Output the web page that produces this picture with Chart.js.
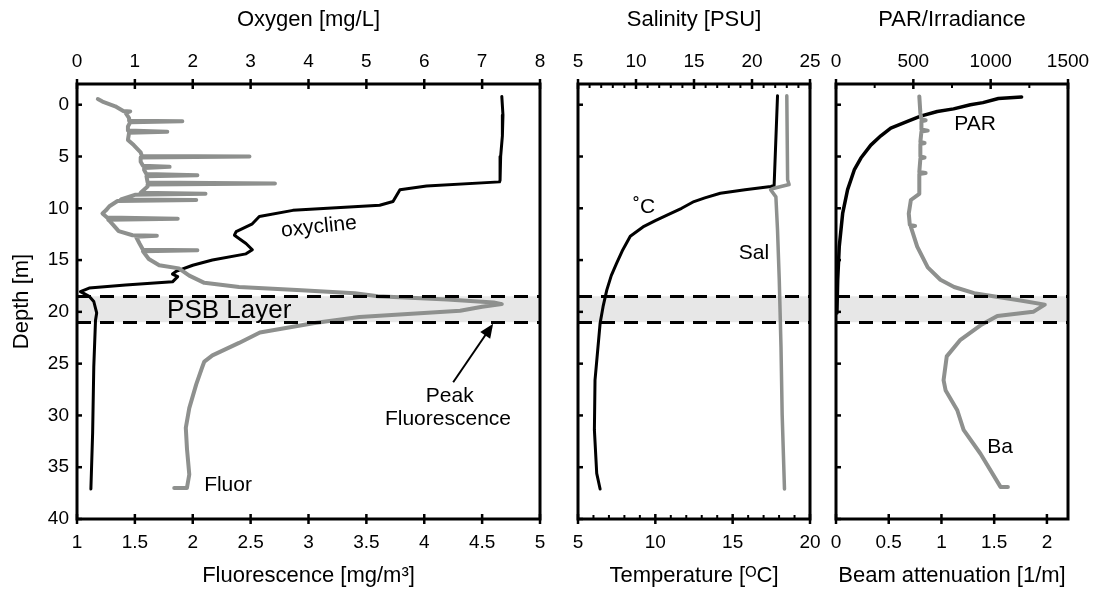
<!DOCTYPE html>
<html><head><meta charset="utf-8">
<script src="https://cdn.jsdelivr.net/npm/chart.js@4/dist/chart.umd.min.js"></script>
<style>
html,body{margin:0;padding:0;background:#fff;}
#wrap{position:relative;width:1102px;height:592px;overflow:hidden;}
canvas{position:absolute;left:0;top:0;}
</style></head><body>
<div id="wrap">
<canvas id="c1" width="1102" height="592"></canvas>
<canvas id="c2" width="1102" height="592"></canvas>
<canvas id="c3" width="1102" height="592"></canvas>
</div>
<script>
// ---------- DATA ----------
// Panel 1: Oxygen [mg/L] vs depth
const oxyDepth = [-0.8, 1, 3, 5, 7.3, 7.45, 7.85, 8.2, 9.35, 9.7, 10.2, 10.8, 11.5, 12.25, 12.6, 13.4, 14.0, 14.4, 15.0, 15.5, 16.1, 16.35, 16.6, 17.1, 17.4, 17.7, 18.05, 18.5, 19.0, 20.1, 20.8, 25.3, 31.7, 37.1];
const oxyValue = [7.34, 7.36, 7.35, 7.32, 7.31, 7.3, 6.04, 5.58, 5.46, 5.23, 3.73, 3.15, 3.03, 2.75, 2.72, 2.92, 3.03, 2.92, 2.34, 2.0, 1.71, 1.65, 1.74, 1.65, 0.84, 0.21, 0.06, 0.21, 0.29, 0.34, 0.32, 0.29, 0.27, 0.24];
// Panel 1: Fluorescence [mg/m3] vs depth
const fluDepth = [-0.55, -0.3, 0.15, 0.6, 0.65, 0.8, 1.3, 1.55, 1.6, 1.7, 2.1, 2.5, 2.6, 2.7, 3.4, 3.9, 4.6, 4.95, 5.0, 5.1, 5.5, 5.9, 6.0, 6.1, 6.3, 6.7, 6.8, 6.9, 7.5, 7.6, 7.7, 7.9, 8.5, 8.6, 8.7, 9.0, 9.15, 9.2, 9.3, 9.8, 10.2, 10.5, 10.9, 11.0, 11.1, 11.2, 11.7, 12.2, 12.6, 12.65, 12.75, 13.4, 14.0, 14.05, 14.15, 14.9, 15.5, 15.8, 16.5, 17.2, 17.6, 17.9, 18.2, 18.5, 18.8, 19.1, 19.25, 19.5, 19.9, 20.5, 21.0, 21.1, 22.0, 23.0, 24.2, 24.8, 25.4, 27.0, 29.3, 31.2, 33.2, 35.7, 37.0, 37.0];
const fluValue = [1.18, 1.22, 1.33, 1.40, 1.46, 1.42, 1.45, 1.45, 1.91, 1.46, 1.44, 1.44, 1.78, 1.45, 1.44, 1.49, 1.55, 1.56, 2.49, 1.55, 1.55, 1.57, 1.80, 1.58, 1.58, 1.60, 2.04, 1.60, 1.61, 2.71, 1.61, 1.61, 1.55, 2.11, 1.50, 1.42, 1.38, 2.03, 1.35, 1.28, 1.25, 1.22, 1.26, 1.87, 1.27, 1.28, 1.32, 1.36, 1.48, 1.69, 1.51, 1.54, 1.57, 2.04, 1.57, 1.62, 1.71, 1.88, 1.97, 2.10, 2.40, 2.90, 3.40, 3.60, 4.20, 4.60, 4.67, 4.50, 4.31, 3.44, 3.10, 3.04, 2.58, 2.40, 2.17, 2.10, 2.08, 2.03, 1.97, 1.94, 1.95, 1.97, 1.95, 1.84];
// Panel 2: Temperature [oC] vs depth
const tempDepth = [-0.87, 7.8, 7.9, 8.2, 8.55, 9.0, 9.35, 10.0, 10.5, 11.2, 11.8, 12.7, 14.0, 15.3, 16.5, 17.9, 19.5, 21.1, 26.6, 31.4, 35.6, 37.1];
const tempValue = [17.9, 17.68, 17.47, 15.8, 14.2, 13.2, 12.5, 11.7, 11.0, 10.0, 9.2, 8.38, 7.9, 7.5, 7.15, 6.86, 6.62, 6.43, 6.1, 6.06, 6.21, 6.43];
// Panel 2: Salinity [PSU] vs depth
const salDepth = [-0.87, 7.25, 7.7, 8.06, 8.2, 8.9, 12.1, 16.9, 23.4, 29.9, 37.1];
const salValue = [23.0, 23.07, 23.2, 21.9, 21.6, 22.06, 22.2, 22.35, 22.5, 22.6, 22.8];
// Panel 3: PAR vs depth
const parDepth = [-0.75, -0.6, -0.2, 0.0, 0.4, 0.65, 1.1, 1.6, 2.25, 3.0, 3.9, 5.15, 6.3, 8.2, 10.5, 13.7, 16.9, 20.1];
const parValue = [1200, 1050, 950, 869, 760, 655, 547, 462, 354, 290, 225, 161, 118, 75, 43, 21, 11, 6];
// Panel 3: Beam attenuation [1/m] vs depth
const baDepth = [-0.8, 0.8, 1.4, 1.5, 1.6, 2.4, 2.5, 2.6, 3.6, 3.7, 3.8, 5.0, 5.1, 5.2, 6.5, 6.6, 6.7, 8.6, 9.2, 10.5, 11.6, 11.7, 11.8, 13.7, 15.7, 16.9, 17.6, 18.2, 18.9, 19.3, 20.0, 20.4, 21.3, 22.7, 24.3, 26.6, 27.6, 29.5, 31.4, 33.7, 36.9, 36.9];
const baValue = [0.79, 0.80, 0.81, 0.85, 0.81, 0.81, 0.87, 0.81, 0.80, 0.84, 0.80, 0.80, 0.84, 0.80, 0.79, 0.85, 0.79, 0.79, 0.71, 0.69, 0.70, 0.75, 0.71, 0.77, 0.87, 0.99, 1.12, 1.31, 1.75, 1.98, 1.87, 1.53, 1.37, 1.18, 1.05, 1.02, 1.04, 1.15, 1.21, 1.37, 1.56, 1.63];
// PSB layer band (depth, m)
const psbBand = [18.5, 21.0];
// Tick labels
const depthTicks = [0, 5, 10, 15, 20, 25, 30, 35, 40];
const oxyTicks = [0, 1, 2, 3, 4, 5, 6, 7, 8];
const fluTicks = [1, 1.5, 2, 2.5, 3, 3.5, 4, 4.5, 5];
const salTicks = [5, 10, 15, 20, 25];
const tempTicks = [5, 10, 15, 20];
const parTicks = [0, 500, 1000, 1500];
const baTicks = [0, 0.5, 1, 1.5, 2];

// ---------- helpers ----------
const FONT = '"Liberation Sans", Arial, Helvetica, sans-serif';
const GRAY = '#8e908e';
const pts = (ds, vs) => ds.map((d, i) => ({x: vs[i], y: d}));

const deco = {
  id: 'deco',
  beforeDatasetsDraw(chart) {
    const {ctx, chartArea: a, scales} = chart;
    const y1 = scales.y.getPixelForValue(psbBand[0]), y2 = scales.y.getPixelForValue(psbBand[1]);
    ctx.save();
    ctx.fillStyle = '#e7e7e7';
    ctx.fillRect(a.left, y1, a.right - a.left, y2 - y1);
    ctx.restore();
  },
  afterDatasetsDraw(chart, args, o) {
    const {ctx, chartArea: a, scales} = chart;
    ctx.save();
    ctx.strokeStyle = '#000'; ctx.lineWidth = 3; ctx.setLineDash([14, 9]);
    psbBand.forEach(d => {
      const py = Math.round(scales.y.getPixelForValue(d)) + 0.5;
      ctx.beginPath(); ctx.moveTo(a.left, py); ctx.lineTo(a.right, py); ctx.stroke();
    });
    ctx.setLineDash([]);
    ctx.lineWidth = 3;
    ctx.strokeRect(a.left, a.top, a.right - a.left, a.bottom - a.top);
    ctx.lineWidth = 2.5;
    ['xTop', 'xBot'].forEach(id => {
      const s = scales[id];
      const by = id === 'xTop' ? a.top : a.bottom;
      s.ticks.forEach(t => {
        const px = s.getPixelForValue(t.value);
        ctx.beginPath(); ctx.moveTo(px, by - 5); ctx.lineTo(px, by + 5); ctx.stroke();
      });
      const step = (o.minor || {})[id];
      if (step) {
        ctx.lineWidth = 2;
        for (let v = s.min; v <= s.max + 1e-9; v += step) {
          if (s.ticks.some(t => Math.abs(t.value - v) < 1e-9)) continue;
          const px = s.getPixelForValue(v);
          const dir = id === 'xTop' ? 1 : -1;
          ctx.beginPath(); ctx.moveTo(px, by); ctx.lineTo(px, by + dir * 4); ctx.stroke();
        }
        ctx.lineWidth = 2.5;
      }
    });
    scales.y.ticks.forEach(t => {
      const py = scales.y.getPixelForValue(t.value);
      ctx.beginPath(); ctx.moveTo(a.left, py); ctx.lineTo(a.left + 5, py); ctx.stroke();
    });
    ctx.fillStyle = '#000'; ctx.textAlign = 'center'; ctx.textBaseline = 'middle';
    (o.labels || []).forEach(l => {
      const s = scales[l.axis];
      const px = s.getPixelForValue(l.x), py = scales.y.getPixelForValue(l.y);
      ctx.save();
      ctx.translate(px, py);
      if (l.rot) ctx.rotate(l.rot * Math.PI / 180);
      ctx.font = (l.size || 21) + 'px ' + FONT;
      ctx.fillText(l.text, 0, 0);
      ctx.restore();
    });
    (o.arrows || []).forEach(ar => {
      const s = scales[ar.axis];
      const x1 = s.getPixelForValue(ar.from[0]), y1 = scales.y.getPixelForValue(ar.from[1]);
      const x2 = s.getPixelForValue(ar.to[0]), y2 = scales.y.getPixelForValue(ar.to[1]);
      const ang = Math.atan2(y2 - y1, x2 - x1);
      const hl = 14, hw = 6;
      ctx.strokeStyle = '#000'; ctx.lineWidth = 2;
      ctx.beginPath(); ctx.moveTo(x1, y1);
      ctx.lineTo(x2 - Math.cos(ang) * hl * 0.8, y2 - Math.sin(ang) * hl * 0.8); ctx.stroke();
      ctx.beginPath();
      ctx.moveTo(x2, y2);
      ctx.lineTo(x2 - Math.cos(ang) * hl + Math.sin(ang) * hw, y2 - Math.sin(ang) * hl - Math.cos(ang) * hw);
      ctx.lineTo(x2 - Math.cos(ang) * hl - Math.sin(ang) * hw, y2 - Math.sin(ang) * hl + Math.cos(ang) * hw);
      ctx.closePath(); ctx.fill();
    });
    ctx.restore();
  }
};

function xScale(pos, min, max, ticks, title) {
  return {
    type: 'linear', position: pos, min, max,
    afterBuildTicks: s => { s.ticks = ticks.map(v => ({value: v})); },
    afterFit: s => { s.height = pos === 'top' ? 84 : 73; },
    grid: {display: false, drawTicks: false},
    border: {display: false},
    ticks: {color: '#000', font: {family: FONT, size: 19}, padding: pos === 'top' ? 11 : 12,
             maxRotation: 0, autoSkip: false, callback: v => String(v)},
    title: {display: true, text: title, color: '#000', font: {family: FONT, size: 22},
            padding: pos === 'top' ? {top: 7} : {bottom: 3}}
  };
}

function yScale(show) {
  return {
    type: 'linear', position: 'left', reverse: true, min: -2, max: 40,
    afterBuildTicks: s => { s.ticks = depthTicks.map(v => ({value: v})); },
    afterFit: s => { s.width = show ? 77 : 0; },
    grid: {display: false, drawTicks: false},
    border: {display: false},
    ticks: {display: show, color: '#000', font: {family: FONT, size: 19}, padding: 8, callback: v => String(v)},
    title: {display: show, text: 'Depth [m]', color: '#000', font: {family: FONT, size: 22}, padding: {top: 9}}
  };
}

function line(data, axis, color, width) {
  return {data, xAxisID: axis, yAxisID: 'y', borderColor: color, borderWidth: width,
          borderJoinStyle: 'round', borderCapStyle: 'round',
          pointRadius: 0, tension: 0, fill: false, showLine: true};
}

function makeChart(id, padL, padR, datasets, scales, decoOpts) {
  return new Chart(document.getElementById(id), {
    type: 'scatter',
    data: {datasets},
    options: {
      responsive: false, animation: false, devicePixelRatio: 1,
      layout: {padding: {left: padL, right: padR, top: 0, bottom: 0}},
      plugins: {legend: {display: false}, tooltip: {enabled: false}, deco: decoOpts},
      scales
    },
    plugins: [deco]
  });
}

// Panel 1
makeChart('c1', 0, 1102 - 540, [
  line(pts(fluDepth, fluValue), 'xBot', GRAY, 4),
  line(pts(oxyDepth, oxyValue), 'xTop', '#000', 3)
], {
  y: yScale(true),
  xTop: xScale('top', 0, 8, oxyTicks, 'Oxygen [mg/L]'),
  xBot: xScale('bottom', 1, 5, fluTicks, 'Fluorescence [mg/m\u00B3]')
}, {
  labels: [
    {text: 'oxycline', axis: 'xTop', x: 4.18, y: 11.8, rot: -6, size: 21},
    {text: 'PSB Layer', axis: 'xTop', x: 2.63, y: 19.9, size: 26},
    {text: 'Peak', axis: 'xTop', x: 6.44, y: 28.1, size: 21},
    {text: 'Fluorescence', axis: 'xTop', x: 6.41, y: 30.4, size: 21},
    {text: 'Fluor', axis: 'xTop', x: 2.61, y: 36.7, size: 21}
  ],
  arrows: [{axis: 'xTop', from: [6.5, 26.8], to: [7.19, 21.15]}]
});

// Panel 2
makeChart('c2', 578, 1102 - 810, [
  line(pts(salDepth, salValue), 'xTop', GRAY, 3.5),
  line(pts(tempDepth, tempValue), 'xBot', '#000', 3)
], {
  y: yScale(false),
  xTop: xScale('top', 5, 25, salTicks, 'Salinity [PSU]'),
  xBot: xScale('bottom', 5, 20, tempTicks, 'Temperature [\u1D3CC]')
}, {
  minor: {xTop: 1, xBot: 1},
  labels: [
    {text: '\u02DAC', axis: 'xBot', x: 9.27, y: 9.9, size: 21},
    {text: 'Sal', axis: 'xBot', x: 16.38, y: 14.3, size: 21}
  ]
});

// Panel 3
makeChart('c3', 836, 1102 - 1068, [
  line(pts(baDepth, baValue), 'xBot', GRAY, 4),
  line(pts(parDepth, parValue), 'xTop', '#000', 3.5)
], {
  y: yScale(false),
  xTop: xScale('top', 0, 1500, parTicks, 'PAR/Irradiance'),
  xBot: xScale('bottom', 0, 2.2, baTicks, 'Beam attenuation [1/m]')
}, {
  minor: {xTop: 250},
  labels: [
    {text: 'PAR', axis: 'xTop', x: 899, y: 1.86, size: 21},
    {text: 'Ba', axis: 'xBot', x: 1.555, y: 33.1, size: 21}
  ]
});
</script>
</body></html>
